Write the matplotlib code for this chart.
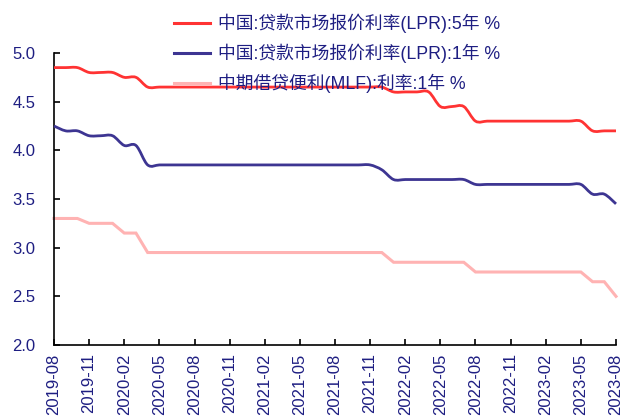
import numpy as np
import pandas as pd
import matplotlib
matplotlib.use("Agg")
import matplotlib.pyplot as plt
from matplotlib.path import Path
from matplotlib.patches import PathPatch
from matplotlib.lines import Line2D

plt.rcParams['font.family'] = ['Liberation Sans', 'Noto Sans CJK SC', 'DejaVu Sans']

# monthly observations, 2019-08 .. 2023-08
months = pd.date_range('2019-08-01', '2023-08-01', freq='MS').strftime('%Y-%m').tolist()

lpr_5y = [4.85, 4.85, 4.85, 4.80, 4.80,
          4.80, 4.75, 4.75, 4.65, 4.65, 4.65, 4.65, 4.65, 4.65, 4.65, 4.65, 4.65,
          4.65, 4.65, 4.65, 4.65, 4.65, 4.65, 4.65, 4.65, 4.65, 4.65, 4.65, 4.65,
          4.60, 4.60, 4.60, 4.60, 4.45, 4.45, 4.45, 4.30, 4.30, 4.30, 4.30, 4.30,
          4.30, 4.30, 4.30, 4.30, 4.30, 4.20, 4.20, 4.20]

lpr_1y = [4.25, 4.20, 4.20, 4.15, 4.15,
          4.15, 4.05, 4.05, 3.85, 3.85, 3.85, 3.85, 3.85, 3.85, 3.85, 3.85, 3.85,
          3.85, 3.85, 3.85, 3.85, 3.85, 3.85, 3.85, 3.85, 3.85, 3.85, 3.85, 3.80,
          3.70, 3.70, 3.70, 3.70, 3.70, 3.70, 3.70, 3.65, 3.65, 3.65, 3.65, 3.65,
          3.65, 3.65, 3.65, 3.65, 3.65, 3.55, 3.55, 3.45]

mlf_1y = [3.30, 3.30, 3.30, 3.25, 3.25,
          3.25, 3.15, 3.15, 2.95, 2.95, 2.95, 2.95, 2.95, 2.95, 2.95, 2.95, 2.95,
          2.95, 2.95, 2.95, 2.95, 2.95, 2.95, 2.95, 2.95, 2.95, 2.95, 2.95, 2.95,
          2.85, 2.85, 2.85, 2.85, 2.85, 2.85, 2.85, 2.75, 2.75, 2.75, 2.75, 2.75,
          2.75, 2.75, 2.75, 2.75, 2.75, 2.65, 2.65, 2.50]

labels = ['中国:贷款市场报价利率(LPR):5年 %',
          '中国:贷款市场报价利率(LPR):1年 %',
          '中期借贷便利(MLF):利率:1年 %']

RED = '#FF3333'
BLUE = '#3D3592'
PINK = '#FFB3B3'
TXT = '#1E1E82'


def smooth_path(x, y):
    # catmull-rom style bezier through the points (like excel "smoothed line")
    pts = np.column_stack([x, y]).astype(float)
    n = len(pts)
    verts = [pts[0]]
    codes = [Path.MOVETO]
    for i in range(n - 1):
        p0 = pts[i - 1] if i > 0 else pts[i]
        p1 = pts[i]
        p2 = pts[i + 1]
        p3 = pts[i + 2] if i + 2 < n else pts[i + 1]
        verts += [p1 + (p2 - p0) / 6, p2 - (p3 - p1) / 6, p2]
        codes += [Path.CURVE4] * 3
    return Path(verts, codes)


fig = plt.figure(figsize=(6.25, 4.2), dpi=100)
ax = fig.add_axes([54 / 625, 1 - 345 / 420, (616 - 54) / 625, (345 - 53) / 420])

x = np.arange(len(months))
ax.plot(x, mlf_1y, color=PINK, lw=2.2, solid_joinstyle='miter', clip_on=False, zorder=2)
for vals, col in [(lpr_1y, BLUE), (lpr_5y, RED)]:
    patch = PathPatch(smooth_path(x, vals), facecolor='none', edgecolor=col, lw=2.0,
                      transform=ax.transData, clip_on=False, zorder=3)
    ax.add_patch(patch)

ax.set_xlim(0, len(months) - 1)
ax.set_ylim(2.0, 5.0)
yt = np.arange(2.0, 5.01, 0.5)
ax.set_yticks(yt)
ax.set_yticklabels(['%.1f' % v for v in yt])
ax.set_xticks(x[::3])
ax.set_xticklabels(months[::3], rotation=90)

for s in ['top', 'right']:
    ax.spines[s].set_visible(False)
for s in ['left', 'bottom']:
    ax.spines[s].set_linewidth(1.2)
ax.tick_params(direction='in', length=4, width=1.2, colors='black', labelsize=12,
               labelcolor=TXT)
ax.tick_params(axis='y', pad=13.5)
ax.tick_params(axis='x', pad=6)

handles = [Line2D([], [], color=RED, lw=2.2),
           Line2D([], [], color=BLUE, lw=2.2),
           Line2D([], [], color=PINK, lw=2.2)]
fig.legend(handles, labels, loc='upper left', bbox_to_anchor=(174 / 625, 1 - 14 / 420),
           frameon=False, fontsize=12.8, labelcolor=TXT, handlelength=2.0,
           handletextpad=0.45, labelspacing=0.6, borderpad=0, borderaxespad=0)

fig.savefig('out.png', dpi=100)
